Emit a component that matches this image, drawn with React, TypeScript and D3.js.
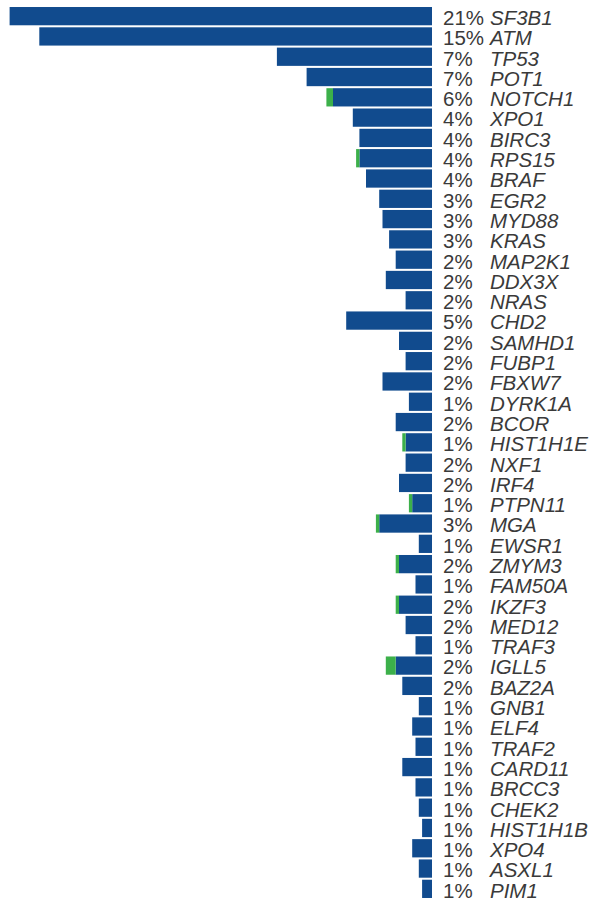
import React from "react";
import * as d3 from "d3";

// Genes in display order (top to bottom)
const genes = [
  "SF3B1", "ATM", "TP53", "POT1", "NOTCH1", "XPO1", "BIRC3", "RPS15", "BRAF", "EGR2",
  "MYD88", "KRAS", "MAP2K1", "DDX3X", "NRAS", "CHD2", "SAMHD1", "FUBP1", "FBXW7", "DYRK1A",
  "BCOR", "HIST1H1E", "NXF1", "IRF4", "PTPN11", "MGA", "EWSR1", "ZMYM3", "FAM50A", "IKZF3",
  "MED12", "TRAF3", "IGLL5", "BAZ2A", "GNB1", "ELF4", "TRAF2", "CARD11", "BRCC3", "CHEK2",
  "HIST1H1B", "XPO4", "ASXL1", "PIM1",
];

// Percentage of cases carrying a mutation in each gene
const percents = [
  21, 15, 7, 7, 6, 4, 4, 4, 4, 3,
  3, 3, 2, 2, 2, 5, 2, 2, 2, 1,
  2, 1, 2, 2, 1, 3, 1, 2, 1, 2,
  2, 1, 2, 2, 1, 1, 1, 1, 1, 1,
  1, 1, 1, 1,
];

// Mutation counts, main class (blue)
const primaryCounts = [
  128, 119, 47, 38, 30, 24, 22, 22, 20, 16,
  15, 13, 11, 14, 8, 26, 10, 8, 15, 7,
  11, 8, 8, 10, 6, 16, 4, 10, 5, 10,
  8, 5, 11, 9, 4, 6, 5, 9, 5, 4,
  3, 6, 4, 3,
];

// Mutation counts, secondary class (green)
const secondaryCounts = [
  0, 0, 0, 0, 2, 0, 0, 1, 0, 0,
  0, 0, 0, 0, 0, 0, 0, 0, 0, 0,
  0, 1, 0, 0, 1, 1, 0, 1, 0, 1,
  0, 0, 3, 0, 0, 0, 0, 0, 0, 0,
  0, 0, 0, 0,
];

const W = 594;
const H = 906;
const BASE_X = 432;
const BLUE = "#114b8e";
const GREEN = "#3cb04a";
const TEXT = "#3a3a3a";
const FONT = "'Liberation Sans', Arial, sans-serif";

export default function App() {
  const len = d3.scaleLinear().domain([0, 130]).range([0, 429]);
  const y = d3
    .scaleBand<string>()
    .domain(genes)
    .range([6, 899])
    .paddingInner(0.1)
    .paddingOuter(0.05);
  const bw = y.bandwidth();

  return (
    <svg
      width={W}
      height={H}
      style={{ position: "absolute", left: 0, top: 0, background: "#fff" }}
    >
      {genes.map((g, i) => {
        const yTop = y(g) as number;
        const blueW = len(primaryCounts[i]);
        const greenW = len(secondaryCounts[i]);
        return (
          <g key={g}>
            <rect x={BASE_X - blueW} y={yTop} width={blueW} height={bw} fill={BLUE} />
            {greenW > 0 && (
              <rect
                x={BASE_X - blueW - greenW}
                y={yTop}
                width={greenW}
                height={bw}
                fill={GREEN}
              />
            )}
            <text
              x={443}
              y={yTop + 18}
              fontFamily={FONT}
              fontSize={20.5}
              fill={TEXT}
            >
              {percents[i]}%
            </text>
            <text
              x={490}
              y={yTop + 18}
              fontFamily={FONT}
              fontSize={20.5}
              fontStyle="italic"
              fill={TEXT}
            >
              {g}
            </text>
          </g>
        );
      })}
    </svg>
  );
}
